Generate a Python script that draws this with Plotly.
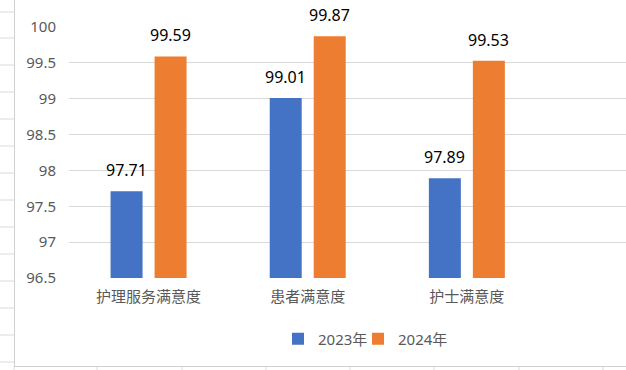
import plotly.graph_objects as go

categories = ["护理服务满意度", "患者满意度", "护士满意度"]
series_names = ["2023年", "2024年"]
values_2023 = [97.71, 99.01, 97.89]
values_2024 = [99.59, 99.87, 99.53]
tick_vals = [96.5, 97, 97.5, 98, 98.5, 99, 99.5, 100]
tick_text = ["96.5", "97", "97.5", "98", "98.5", "99", "99.5", "100"]

colors = ["#4472C4", "#ED7D31"]
FONT = "Noto Sans, Noto Sans CJK SC, sans-serif"

W, H = 626, 370
L, R, T, B = 69, 0, 27, 92
BARGAP = 0.447
BARGROUPGAP = 0.273
PW, PH = W - L - R, H - T - B


def px(xx):
    return (xx - L) / PW


def py(yy):
    return (H - B - yy) / PH


fig = go.Figure()
legend_ids = ["legend", "legend2"]
for name, vals, col, lg in zip(series_names, [values_2023, values_2024], colors, legend_ids):
    fig.add_trace(go.Bar(
        x=categories, y=vals, name=name, legend=lg,
        marker=dict(color=col, line=dict(width=0)),
    ))

# data labels above bars
slot = (1 - BARGAP) / 2
for k, vals in enumerate([values_2023, values_2024]):
    off = (k - 0.5) * slot
    for i, v in enumerate(vals):
        fig.add_annotation(
            x=i + off, y=v, xref="x", yref="y", text=f"{v:.2f}",
            showarrow=False, yanchor="bottom", yshift=8,
            font=dict(family=FONT, size=16, color="#000000"),
        )

# spreadsheet background decoration (cell grid outside chart)
shapes = []
line_col = "#dadada"
for yy in [12, 38, 65, 92, 119, 146, 173, 200, 227, 254, 281, 308, 335, 362]:
    shapes.append(dict(type="line", xref="paper", yref="paper",
                       x0=px(0), x1=px(14), y0=py(yy), y1=py(yy),
                       line=dict(color=line_col, width=1)))
for xx in [14, 97, 182, 266, 350, 434, 519, 603]:
    shapes.append(dict(type="line", xref="paper", yref="paper",
                       x0=px(xx), x1=px(xx), y0=py(366), y1=py(371),
                       line=dict(color=line_col, width=1)))
# chart border (left and bottom)
shapes.append(dict(type="line", xref="paper", yref="paper",
                   x0=px(14.5), x1=px(14.5), y0=py(366), y1=py(-2),
                   line=dict(color="#d0d0d0", width=1)))
shapes.append(dict(type="line", xref="paper", yref="paper",
                   x0=px(14), x1=px(W + 2), y0=py(366.5), y1=py(366.5),
                   line=dict(color="#d0d0d0", width=1)))

legend_font = dict(family=FONT, size=15, color="#595959")
fig.update_layout(
    width=W, height=H,
    margin=dict(l=L, r=R, t=T, b=B, pad=0, autoexpand=False),
    paper_bgcolor="white", plot_bgcolor="white",
    barmode="group", bargap=BARGAP, bargroupgap=BARGROUPGAP,
    font=dict(family=FONT, size=15, color="#595959"),
    showlegend=True,
    legend=dict(orientation="h", x=px(278), xanchor="left",
                y=py(339), yanchor="middle", font=legend_font, itemwidth=30,
                bgcolor="rgba(0,0,0,0)"),
    legend2=dict(orientation="h", x=px(358), xanchor="left",
                 y=py(339), yanchor="middle", font=legend_font, itemwidth=30,
                 bgcolor="rgba(0,0,0,0)"),
    shapes=shapes,
    xaxis=dict(type="category", range=[-0.5, 3.0], showgrid=False, showline=False,
               ticks="", automargin=False,
               tickfont=dict(family=FONT, size=15, color="#595959"),
               ticklabelstandoff=8),
    yaxis=dict(range=[96.5, 100], tickvals=tick_vals, ticktext=tick_text,
               showgrid=True, gridcolor="#d9d9d9", gridwidth=1,
               zeroline=False, showline=False, ticks="", automargin=False,
               tickfont=dict(family=FONT, size=15, color="#595959"),
               ticklabelstandoff=12),
)

fig.write_html("out.html", config={"displayModeBar": False},
               post_script="document.body.style.margin='0';document.body.style.overflow='hidden';")
